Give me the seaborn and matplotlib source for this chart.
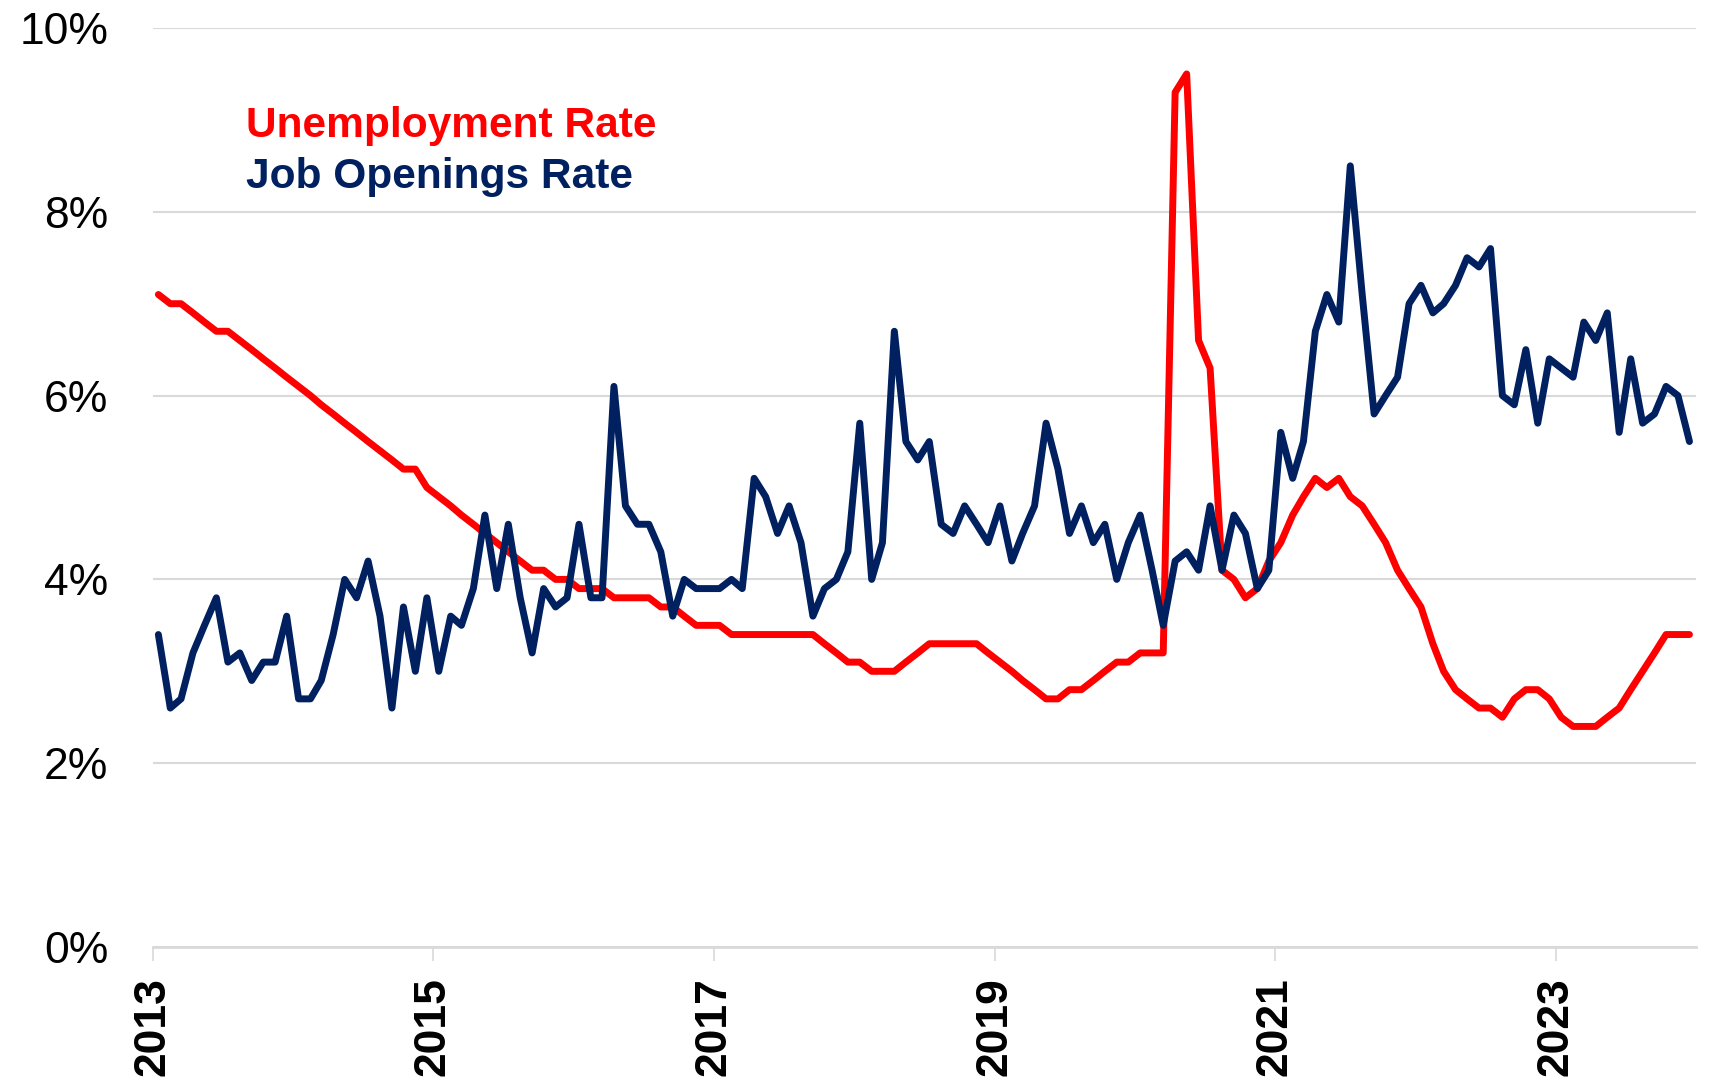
import pandas as pd
import numpy as np
import matplotlib
matplotlib.use("Agg")
import matplotlib.pyplot as plt
from matplotlib.ticker import FuncFormatter
import seaborn as sns

# monthly values, Jan 2013 .. Dec 2023 (percent)
unemployment_rate = [
    7.1, 7.0, 7.0, 6.9, 6.8, 6.7, 6.7, 6.6, 6.5, 6.4, 6.3, 6.2,
    6.1, 6.0, 5.9, 5.8, 5.7, 5.6, 5.5, 5.4, 5.3, 5.2, 5.2, 5.0,
    4.9, 4.8, 4.7, 4.6, 4.5, 4.4, 4.3, 4.2, 4.1, 4.1, 4.0, 4.0,
    3.9, 3.9, 3.9, 3.8, 3.8, 3.8, 3.8, 3.7, 3.7, 3.6, 3.5, 3.5,
    3.5, 3.4, 3.4, 3.4, 3.4, 3.4, 3.4, 3.4, 3.4, 3.3, 3.2, 3.1,
    3.1, 3.0, 3.0, 3.0, 3.1, 3.2, 3.3, 3.3, 3.3, 3.3, 3.3, 3.2,
    3.1, 3.0, 2.9, 2.8, 2.7, 2.7, 2.8, 2.8, 2.9, 3.0, 3.1, 3.1,
    3.2, 3.2, 3.2, 9.3, 9.5, 6.6, 6.3, 4.1, 4.0, 3.8, 3.9, 4.2,
    4.4, 4.7, 4.9, 5.1, 5.0, 5.1, 4.9, 4.8, 4.6, 4.4, 4.1, 3.9,
    3.7, 3.3, 3.0, 2.8, 2.7, 2.6, 2.6, 2.5, 2.7, 2.8, 2.8, 2.7,
    2.5, 2.4, 2.4, 2.4, 2.5, 2.6, 2.8, 3.0, 3.2, 3.4, 3.4, 3.4,
]
job_openings_rate = [
    3.4, 2.6, 2.7, 3.2, 3.5, 3.8, 3.1, 3.2, 2.9, 3.1, 3.1, 3.6,
    2.7, 2.7, 2.9, 3.4, 4.0, 3.8, 4.2, 3.6, 2.6, 3.7, 3.0, 3.8,
    3.0, 3.6, 3.5, 3.9, 4.7, 3.9, 4.6, 3.8, 3.2, 3.9, 3.7, 3.8,
    4.6, 3.8, 3.8, 6.1, 4.8, 4.6, 4.6, 4.3, 3.6, 4.0, 3.9, 3.9,
    3.9, 4.0, 3.9, 5.1, 4.9, 4.5, 4.8, 4.4, 3.6, 3.9, 4.0, 4.3,
    5.7, 4.0, 4.4, 6.7, 5.5, 5.3, 5.5, 4.6, 4.5, 4.8, 4.6, 4.4,
    4.8, 4.2, 4.5, 4.8, 5.7, 5.2, 4.5, 4.8, 4.4, 4.6, 4.0, 4.4,
    4.7, 4.1, 3.5, 4.2, 4.3, 4.1, 4.8, 4.1, 4.7, 4.5, 3.9, 4.1,
    5.6, 5.1, 5.5, 6.7, 7.1, 6.8, 8.5, 7.1, 5.8, 6.0, 6.2, 7.0,
    7.2, 6.9, 7.0, 7.2, 7.5, 7.4, 7.6, 6.0, 5.9, 6.5, 5.7, 6.4,
    6.3, 6.2, 6.8, 6.6, 6.9, 5.6, 6.4, 5.7, 5.8, 6.1, 6.0, 5.5,
]
months = pd.date_range("2013-01-01", periods=len(unemployment_rate), freq="MS") + pd.Timedelta(days=14)
tick_years = [2013, 2015, 2017, 2019, 2021, 2023]
y_ticks = [0, 2, 4, 6, 8, 10]

RED = "#FF0000"
NAVY = "#002060"
GRID = "#D9D9D9"

sns.set_style("white")
plt.rcParams["font.family"] = ["Liberation Sans", "DejaVu Sans"]

df = pd.DataFrame({
    "date": months,
    "Unemployment Rate": unemployment_rate,
    "Job Openings Rate": job_openings_rate,
})

fig = plt.figure(figsize=(17.14, 10.86), dpi=100)
ax = fig.add_axes([153 / 1714, 1 - 947 / 1086, (1696 - 153) / 1714, (947 - 28) / 1086])

sns.lineplot(data=df, x="date", y="Unemployment Rate", ax=ax, color=RED,
             linewidth=5, solid_joinstyle="round", solid_capstyle="round")
sns.lineplot(data=df, x="date", y="Job Openings Rate", ax=ax, color=NAVY,
             linewidth=5, solid_joinstyle="round", solid_capstyle="round")

ax.set_xlim(pd.Timestamp("2013-01-01"), pd.Timestamp("2024-01-01"))
ax.set_ylim(0, 10)
ax.set_yticks(y_ticks)
ax.yaxis.set_major_formatter(FuncFormatter(lambda v, _: f"{v:.0f}%"))
ax.set_xticks([pd.Timestamp(f"{y}-01-01") for y in tick_years])
ax.set_xticklabels([str(y) for y in tick_years], rotation=90, fontweight="bold")

ax.set_xlabel("")
ax.set_ylabel("")
ax.grid(axis="y", color=GRID, linewidth=1.5)
ax.set_axisbelow(True)
for side in ["top", "right", "left"]:
    ax.spines[side].set_visible(False)
ax.spines["bottom"].set_color(GRID)
ax.spines["bottom"].set_linewidth(2)

ax.tick_params(axis="y", left=False, length=0, pad=32, labelsize=32, labelcolor="black")
ax.tick_params(axis="x", bottom=True, direction="out", length=10, width=1.2,
               color=GRID, pad=12, labelsize=32, labelcolor="black")

fig.text(246 / 1714, 1 - 137 / 1086, "Unemployment Rate", color=RED,
         fontsize=30.6, fontweight="bold", va="baseline", ha="left")
fig.text(246 / 1714, 1 - 188 / 1086, "Job Openings Rate", color=NAVY,
         fontsize=30.6, fontweight="bold", va="baseline", ha="left")

fig.savefig("out.png", dpi=100)
